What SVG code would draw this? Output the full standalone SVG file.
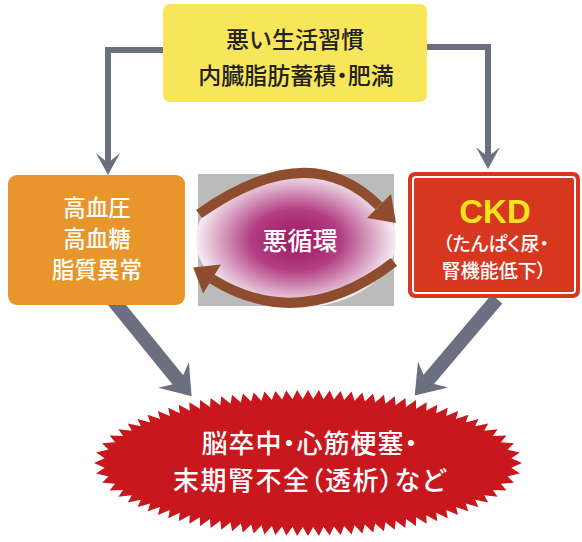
<svg xmlns="http://www.w3.org/2000/svg" width="582" height="542" viewBox="0 0 582 542">
<defs>
<style>
.jp{font-family:"Noto Sans CJK JP","Noto Sans CJK SC",sans-serif;font-weight:500;text-anchor:middle}
.pa{font-feature-settings:"palt" 1}
.conn{fill:none;stroke:#6c6f80}
.head{fill:#6c6f80}
.arc{fill:none;stroke:#8e4d2e;stroke-width:10}
.archead{fill:#8e4d2e}
</style>
<radialGradient id="pg" cx="0.5" cy="0.5" r="0.5">
<stop offset="0" stop-color="#9c1760"/>
<stop offset="0.45" stop-color="#b23d82"/>
<stop offset="0.78" stop-color="#dcaac8"/>
<stop offset="1" stop-color="#f7eef4"/>
</radialGradient>
</defs>
<rect width="582" height="542" fill="#ffffff"/>

<g id="connectors">
<polyline class="conn" stroke-width="6" points="166,50 108,50 108,165"/>
<polygon class="head" points="108,175 96,153 108,163 120,153"/>
<polyline class="conn" stroke-width="6" points="424,47 488,47 488,159"/>
<polygon class="head" points="488,169 476,147 488,157 500,147"/>
<line class="conn" stroke-width="14" x1="113" y1="300" x2="180" y2="382.5"/>
<polygon class="head" points="191.6,396.3 188.9,362 180,382.5 158.3,387.8"/>
<line class="conn" stroke-width="14" x1="497" y1="299" x2="426.5" y2="382"/>
<polygon class="head" points="414.7,395.6 418,361.4 426.5,382 448.2,387.6"/>
</g>

<g id="node-lifestyle">
<rect x="163" y="4" width="264" height="98" rx="7" fill="#f8e65a"/>
<text class="jp" x="295" y="48" font-size="23" fill="#222">悪い生活習慣</text>
<text class="jp pa" x="296" y="84" font-size="23" fill="#222">内臓脂肪蓄積・肥満</text>
</g>

<g id="node-metabolic">
<rect x="8" y="175" width="177" height="130" rx="9" fill="#e8952b"/>
<text class="jp" x="97" y="216" font-size="22.5" fill="#fff">高血圧</text>
<text class="jp" x="97" y="247" font-size="22.5" fill="#fff">高血糖</text>
<text class="jp" x="97" y="278" font-size="22.5" fill="#fff">脂質異常</text>
</g>

<g id="node-cycle">
<rect x="198" y="174" width="196" height="132" fill="#555" opacity="0.4"/>
<ellipse cx="296" cy="240" rx="100" ry="68" fill="url(#pg)"/>
<path class="arc" d="M199,214 Q309,136 379,206"/>
<polygon class="archead" points="396,223 391,194 367,218"/>
<path class="arc" d="M394,262 Q301,334 212,279"/>
<polygon class="archead" points="193.2,267.5 220.9,264.5 203.1,293.5"/>
<text class="jp" x="300" y="250" font-size="25" fill="#fff">悪循環</text>
</g>

<g id="node-ckd">
<rect x="408" y="172" width="172" height="126" rx="7" fill="#d7361f"/>
<rect x="413" y="177" width="162" height="116" rx="3" fill="none" stroke="#fff" stroke-width="2"/>
<text x="495" y="223" font-family="'Liberation Sans',Arial,sans-serif" font-weight="bold" font-size="33" fill="#f7e21c" text-anchor="middle">CKD</text>
<text class="jp pa" x="496" y="251" font-size="19" fill="#fff">（たんぱく尿・</text>
<text class="jp pa" x="494" y="278" font-size="19" fill="#fff">腎機能低下）</text>
</g>

<g id="node-outcome">
<path fill="#c8171d" d="M308,390 L313.2,399.0 318.9,390.1 323.5,399.2 329.7,390.4 333.9,399.5 340.6,390.9 344.2,400.0 351.5,391.5 354.6,400.7 362.3,392.4 364.9,401.5 373.1,393.5 375.2,402.6 383.9,394.7 385.5,403.8 394.7,396.3 395.7,405.2 405.4,398.0 406.0,406.9 416.0,400.0 416.1,408.7 426.7,402.3 426.2,410.8 437.3,404.8 436.2,413.2 447.8,407.7 446.2,415.9 458.1,411.0 456.0,419.0 468.4,414.7 465.7,422.4 478.5,418.9 475.1,426.3 488.2,423.6 484.2,430.8 497.6,429.2 492.9,436.0 506.4,435.6 500.9,442.2 514.0,443.2 507.5,449.6 519.8,452.5 511.4,458.3 522.0,463.0 511.4,467.7 519.8,473.5 507.5,476.4 514.0,482.8 500.9,483.8 506.4,490.4 492.9,490.0 497.6,496.8 484.2,495.2 488.2,502.4 475.1,499.7 478.5,507.1 465.7,503.6 468.4,511.3 456.0,507.0 458.1,515.0 446.2,510.1 447.8,518.3 436.2,512.8 437.3,521.2 426.2,515.2 426.7,523.7 416.1,517.3 416.0,526.0 406.0,519.1 405.4,528.0 395.7,520.8 394.7,529.7 385.5,522.2 383.9,531.3 375.2,523.4 373.1,532.5 364.9,524.5 362.3,533.6 354.6,525.3 351.5,534.5 344.2,526.0 340.6,535.1 333.9,526.5 329.7,535.6 323.5,526.8 318.9,535.9 313.2,527.0 308.0,536.0 302.8,527.0 297.1,535.9 292.5,526.8 286.3,535.6 282.1,526.5 275.4,535.1 271.8,526.0 264.5,534.5 261.4,525.3 253.7,533.6 251.1,524.5 242.9,532.5 240.8,523.4 232.1,531.3 230.5,522.2 221.3,529.7 220.3,520.8 210.6,528.0 210.0,519.1 200.0,526.0 199.9,517.3 189.3,523.7 189.8,515.2 178.7,521.2 179.8,512.8 168.2,518.3 169.8,510.1 157.9,515.0 160.0,507.0 147.6,511.3 150.3,503.6 137.5,507.1 140.9,499.7 127.8,502.4 131.8,495.2 118.4,496.8 123.1,490.0 109.6,490.4 115.1,483.8 102.0,482.8 108.5,476.4 96.2,473.5 104.6,467.7 94.0,463.0 104.6,458.3 96.2,452.5 108.5,449.6 102.0,443.2 115.1,442.2 109.6,435.6 123.1,436.0 118.4,429.2 131.8,430.8 127.8,423.6 140.9,426.3 137.5,418.9 150.3,422.4 147.6,414.7 160.0,419.0 157.9,411.0 169.8,415.9 168.2,407.7 179.8,413.2 178.7,404.8 189.8,410.8 189.3,402.3 199.9,408.7 200.0,400.0 210.0,406.9 210.6,398.0 220.3,405.2 221.3,396.3 230.5,403.8 232.1,394.7 240.8,402.6 242.9,393.5 251.1,401.5 253.7,392.4 261.4,400.7 264.5,391.5 271.8,400.0 275.4,390.9 282.1,399.5 286.3,390.4 292.5,399.2 297.1,390.1 302.8,399.0 Z"/>
<text class="jp pa" x="310" y="453" font-size="26" letter-spacing="1" fill="#fff">脳卒中・心筋梗塞・</text>
<text class="jp pa" x="310" y="490" font-size="26" letter-spacing="1.5" fill="#fff">末期腎不全（透析）など</text>
</g>
</svg>
